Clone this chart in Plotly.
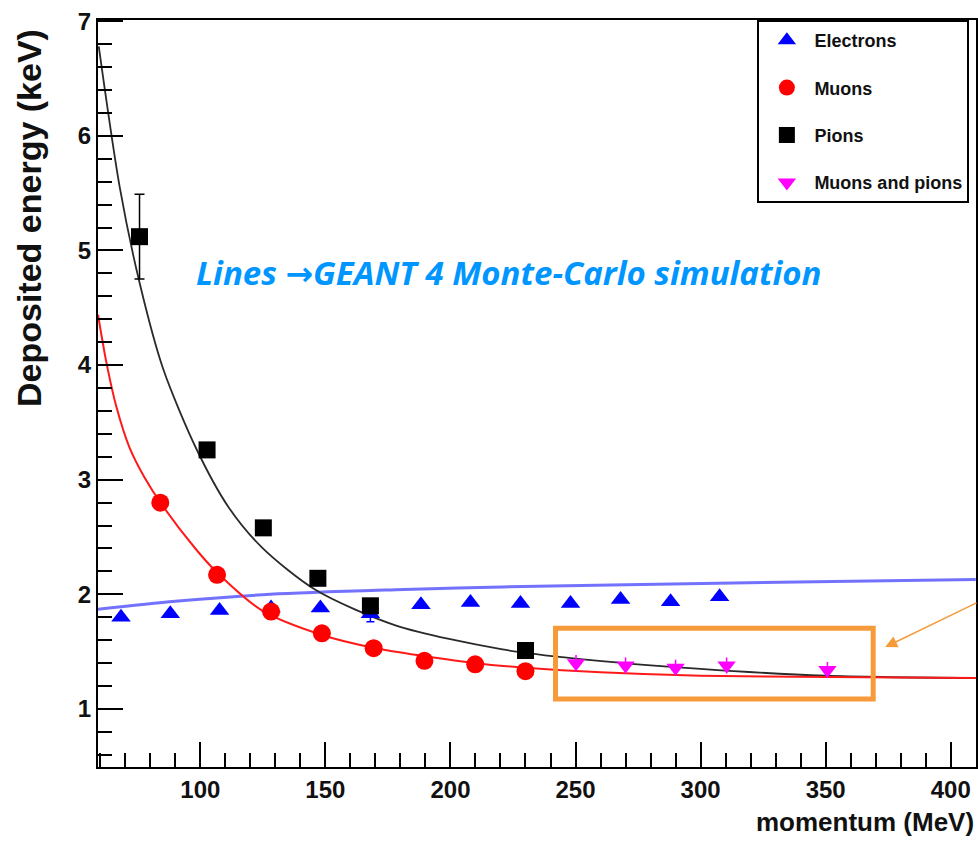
import plotly.graph_objects as go

# ---- data ----
electron_p = [68.3, 88.0, 107.7, 128.3, 148.0, 168.0, 188.2, 208.0, 228.0, 248.0, 268.0, 288.0, 307.6]
electron_e = [1.80, 1.83, 1.86, 1.88, 1.88, 1.83, 1.91, 1.93, 1.92, 1.92, 1.955, 1.935, 1.98]
electron_err = [0, 0, 0, 0, 0, 0.07, 0, 0, 0, 0, 0, 0, 0]

muon_p = [84.0, 106.7, 128.3, 148.6, 169.3, 189.6, 209.9, 230.0]
muon_e = [2.80, 2.17, 1.85, 1.66, 1.53, 1.42, 1.39, 1.33]

pion_p = [75.7, 102.7, 125.2, 147.0, 168.0, 230.0]
pion_e = [5.12, 3.26, 2.58, 2.14, 1.90, 1.51]
pion_err = [0.37, 0.05, 0.05, 0.05, 0.05, 0.05]

mupi_p = [250.2, 270.0, 290.0, 310.4, 350.7]
mupi_e = [1.40, 1.38, 1.36, 1.38, 1.34]
mupi_err = [0.07, 0.07, 0.07, 0.07, 0.07]

# simulation lines
sim_pion_p = [59.4, 67.8, 75.7, 85.1, 98.4, 111.3, 124.6, 146.0, 178.0, 220.8, 250.0, 300.0, 350.0, 410.0]
sim_pion_e = [6.78, 5.55, 4.72, 3.97, 3.27, 2.76, 2.41, 2.04, 1.73, 1.52, 1.44, 1.35, 1.29, 1.27]

sim_muon_p = [59.1, 62.4, 66.4, 71.7, 77.7, 84.7, 98.0, 106.7, 124.6, 148.0, 170.0, 190.0, 210.0, 230.0, 260.0, 300.0, 350.0, 410.0]
sim_muon_e = [4.44, 4.03, 3.64, 3.28, 3.02, 2.78, 2.40, 2.19, 1.86, 1.65, 1.53, 1.46, 1.40, 1.36, 1.32, 1.29, 1.28, 1.27]

sim_elec_p = [58.7, 90.0, 128.0, 178.0, 220.8, 313.0, 410.0]
sim_elec_e = [1.87, 1.94, 2.00, 2.04, 2.065, 2.10, 2.13]

x_ticks = [100, 150, 200, 250, 300, 350, 400]
y_ticks = [1, 2, 3, 4, 5, 6, 7]

FONT = "Liberation Sans"

fig = go.Figure()

# simulation curves
fig.add_trace(go.Scatter(x=sim_elec_p, y=sim_elec_e, mode="lines", showlegend=False,
                         line=dict(color="rgba(20,20,255,0.6)", width=3, shape="spline", smoothing=0.8),
                         hoverinfo="skip"))
fig.add_trace(go.Scatter(x=sim_pion_p, y=sim_pion_e, mode="lines", showlegend=False,
                         line=dict(color="#2a2a2a", width=1.8, shape="spline", smoothing=0.8),
                         hoverinfo="skip"))
fig.add_trace(go.Scatter(x=sim_muon_p, y=sim_muon_e, mode="lines", showlegend=False,
                         line=dict(color="#ff1a1a", width=2, shape="spline", smoothing=0.8),
                         hoverinfo="skip"))

# data points
fig.add_trace(go.Scatter(x=electron_p, y=electron_e, mode="markers", name="Electrons",
                         legendgroup="e",
                         error_y=dict(type="data", array=electron_err, color="#0000ff", thickness=1.5, width=4),
                         marker=dict(symbol="triangle-up", size=17, color="#0000ff")))
fig.add_trace(go.Scatter(x=muon_p, y=muon_e, mode="markers", name="Muons",
                         legendgroup="m",
                         marker=dict(symbol="circle", size=18, color="#ff0000")))
fig.add_trace(go.Scatter(x=pion_p, y=pion_e, mode="markers", name="Pions",
                         legendgroup="p",
                         error_y=dict(type="data", array=pion_err, color="#000000", thickness=1.5, width=5),
                         marker=dict(symbol="square", size=17, color="#000000")))
fig.add_trace(go.Scatter(x=mupi_p, y=mupi_e, mode="markers", name="Muons and pions",
                         legendgroup="mp",
                         error_y=dict(type="data", array=mupi_err, color="#ff00ff", thickness=1.5, width=0),
                         marker=dict(symbol="triangle-down", size=16, color="#ff00ff")))

# orange highlight box
fig.add_shape(type="rect", xref="x", yref="y", x0=242, x1=369, y0=1.087, y1=1.705,
              line=dict(color="#f79a3a", width=5), fillcolor="rgba(0,0,0,0)")

# orange arrow
fig.add_annotation(x=373.8, y=1.54, xref="x", yref="y", ax=95, ay=-45, axref="pixel", ayref="pixel",
                   text="", showarrow=True, arrowhead=2, arrowsize=1.6, arrowwidth=1.5,
                   arrowcolor="#f79a3a")

# simulation note
fig.add_annotation(x=223.5, y=4.81, xref="x", yref="y", showarrow=False,
                   text=("<b><i>Lines </i></b>"
                         "<span style='font-family:DejaVu Sans;font-weight:bold'>\u2192</span>"
                         "<b><i>GEANT 4 Monte-Carlo simulation</i></b>"),
                   font=dict(family="Open Sans", size=33, color="#0096ff"))

# axis titles (ROOT style, aligned to axis ends)
fig.add_annotation(xref="paper", yref="paper", x=-0.078, y=0.99, xanchor="center", yanchor="top",
                   textangle=-90, showarrow=False,
                   text="<b>Deposited energy (keV)</b>",
                   font=dict(family=FONT, size=34, color="#111111"))
fig.add_annotation(xref="paper", yref="paper", x=1.0, y=-0.074, xanchor="right", yanchor="middle",
                   showarrow=False, text="<b>momentum (MeV)</b>",
                   font=dict(family=FONT, size=26, color="#111111"))

fig.update_xaxes(range=[59.1, 410.1], tickvals=x_ticks, ticktext=[str(v) for v in x_ticks],
                 ticks="inside", ticklen=25, tickwidth=2, tickcolor="black",
                 minor=dict(ticks="inside", ticklen=14, tickwidth=2, tickcolor="black", dtick=10, tick0=0),
                 showline=True, linewidth=2, linecolor="black", mirror=True,
                 showgrid=False, zeroline=False,
                 tickfont=dict(family=FONT, size=24, color="#111111", weight="bold"))
fig.update_yaxes(range=[0.494, 7.01], tickvals=y_ticks, ticktext=[str(v) for v in y_ticks],
                 ticks="inside", ticklen=25, tickwidth=2, tickcolor="black",
                 minor=dict(ticks="inside", ticklen=14, tickwidth=2, tickcolor="black", dtick=0.2, tick0=0),
                 showline=True, linewidth=2, linecolor="black", mirror=True,
                 showgrid=False, zeroline=False,
                 tickfont=dict(family=FONT, size=24, color="#111111", weight="bold"))

fig.update_layout(
    width=978, height=842,
    margin=dict(l=98, r=2, t=20, b=75, autoexpand=False),
    paper_bgcolor="white", plot_bgcolor="white",
    legend=dict(x=0.751, y=1.0, xanchor="left", yanchor="top",
                bgcolor="white", bordercolor="black", borderwidth=2,
                tracegroupgap=21, itemwidth=45,
                entrywidth=180, entrywidthmode="pixels",
                font=dict(family=FONT, size=18, color="#111111", weight="bold")),
)

fig.write_html("out.html")
